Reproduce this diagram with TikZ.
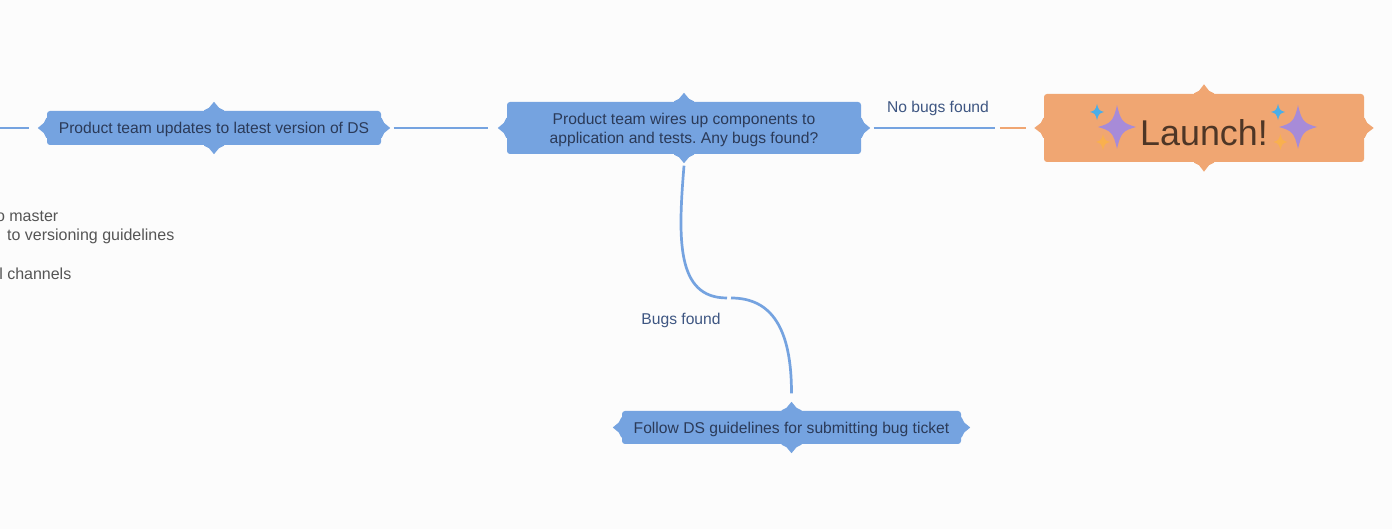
\documentclass[tikz,border=0pt]{standalone}
\usepackage{fontspec}
\setmainfont{Liberation Sans}
\definecolor{mapbg}{RGB}{252,252,252}
\definecolor{topicblue}{RGB}{117,163,224}
\definecolor{topicorange}{RGB}{240,166,114}
\definecolor{topicink}{RGB}{43,58,88}
\definecolor{labelink}{RGB}{62,86,130}
\definecolor{noteink}{RGB}{85,85,85}
\definecolor{launchink}{RGB}{78,54,38}
\definecolor{sparkpurple}{RGB}{167,139,216}
\definecolor{sparkblue}{RGB}{75,174,232}
\definecolor{sparkorange}{RGB}{249,176,78}
\usetikzlibrary{calc}
\tikzset{
  topic/.style={fill=topicblue,rounded corners=0.03cm,inner sep=0,align=center,text=topicink,text depth=0pt,font=\fontsize{4.45}{5.4}\selectfont\frenchspacing},
  flowline/.style={topicblue,line width=0.027cm},
  edgelabel/.style={text=labelink,text depth=0pt,font=\fontsize{4.45}{5.4}\selectfont},
  notetext/.style={text=noteink,anchor=east,inner sep=0,font=\fontsize{4.55}{5.4}\selectfont},
  sparkle/.pic={\fill (1,0) .. controls (0.3,0.2) and (0.2,0.3) .. (0,1.15) .. controls (-0.2,0.3) and (-0.3,0.2) .. (-1,0) .. controls (-0.3,-0.2) and (-0.2,-0.3) .. (0,-1.15) .. controls (0.2,-0.3) and (0.3,-0.2) .. (1,0) -- cycle;}
}
\begin{document}
\begin{tikzpicture}
  \useasboundingbox (0,0) rectangle (13.92,5.29);
  \fill[mapbg] (0,0) rectangle (13.92,5.29);
  % topics
  \node[topic,minimum width=3.34cm,minimum height=0.34cm] (update) at (2.14,4.01) {Product team updates to latest version of DS};
  \node[topic,minimum width=3.54cm,minimum height=0.52cm] (wire) at (6.84,4.01) {Product team wires up components to\\application and tests. Any bugs found?};
  \node[topic,minimum width=3.39cm,minimum height=0.33cm] (ticket) at (7.915,1.015) {Follow DS guidelines for submitting bug ticket};
  \node[topic,fill=topicorange,text=launchink,minimum width=3.2cm,minimum height=0.68cm,text height=0.36cm,font=\fontsize{10.2}{12}\selectfont] (launch) at (12.04,4.01) {Launch!};
  \foreach \n/\c/\t in {update/topicblue/0.085,wire/topicblue/0.085,ticket/topicblue/0.085,launch/topicorange/0.09}{
    \foreach \a/\r in {north/0,west/90,south/180,east/270}{
      \fill[\c,shift={(\n.\a)},rotate=\r] (-0.1,-0.01) -- (-0.1,0) -- (-0.05,0.025) -- (0,\t) -- (0.05,0.025) -- (0.1,0) -- (0.1,-0.01) -- cycle;
    }
  }
  % sparkles
  \foreach \x in {0,1.81}{
    \pic[sparkpurple,scale=0.19] at (11.17+\x,4.02) {sparkle};
    \pic[sparkblue,scale=0.07] at (10.97+\x,4.17) {sparkle};
    \pic[sparkorange,scale=0.07] at (11.03+\x-0.02*\x,3.87) {sparkle};
  }
  % connectors
  \coordinate (incoming) at (0,4.01);
  \coordinate (split) at (9.975,4.01);
  \coordinate (bend) at (7.29,2.31);
  \draw[flowline,shorten >=0.17cm] (incoming) -- (update.west);
  \draw[flowline,shorten <=0.12cm,shorten >=0.18cm] (update.east) -- (wire.west);
  \draw[flowline,shorten <=0.12cm,shorten >=0.025cm] (wire.east) -- (split);
  \draw[flowline,topicorange,shorten <=0.025cm,shorten >=0.17cm] (split) -- (launch.west);
  \draw[flowline] ($(wire.south)+(0,-0.11)$) .. controls (6.78,2.9) and (6.76,2.31) .. ($(bend)+(-0.02,0)$);
  \draw[flowline] ($(bend)+(0.02,0)$) .. controls (7.72,2.31) and (7.915,2.0) .. ($(ticket.north)+(0,0.17)$);
  % labels
  \node[edgelabel] (nobugs) at (9.38,4.22) {No bugs found};
  \node[edgelabel] (bugs) at (6.81,2.10) {Bugs found};
  \node[notetext] (note1) at (0.59,3.13) {o master};
  \node[notetext] (note2) at (1.75,2.93) {to versioning guidelines};
  \node[notetext] (note3) at (0.72,2.55) {l channels};
\end{tikzpicture}
\end{document}
